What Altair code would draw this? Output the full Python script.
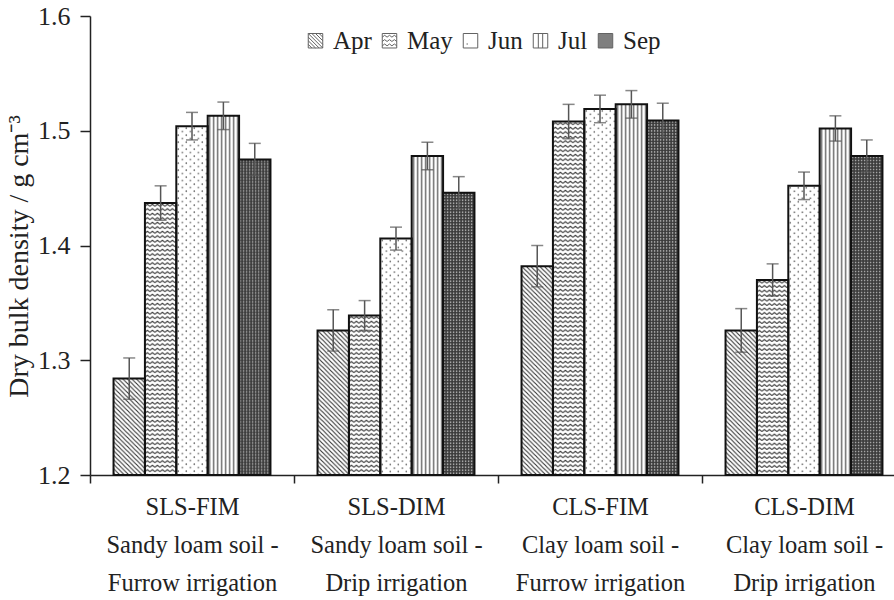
import base64

import altair as alt
import pandas as pd

# ---- data -------------------------------------------------------------
groups = ["SLS-FIM", "SLS-DIM", "CLS-FIM", "CLS-DIM"]
soil_lines = ["Sandy loam soil -", "Sandy loam soil -", "Clay loam soil -", "Clay loam soil -"]
irrigation_lines = ["Furrow irrigation", "Drip irrigation", "Furrow irrigation", "Drip irrigation"]
months = ["Apr", "May", "Jun", "Jul", "Sep"]

# mean dry bulk density (g cm^-3) per month, in group order
apr = [1.284, 1.326, 1.382, 1.326]
may = [1.437, 1.339, 1.508, 1.370]
jun = [1.504, 1.406, 1.519, 1.452]
jul = [1.513, 1.478, 1.523, 1.502]
sep = [1.475, 1.446, 1.509, 1.478]

# error bar half-widths
apr_err = [0.018, 0.018, 0.018, 0.019]
may_err = [0.015, 0.013, 0.015, 0.014]
jun_err = [0.012, 0.010, 0.012, 0.012]
jul_err = [0.012, 0.012, 0.012, 0.011]
sep_err = [0.014, 0.014, 0.015, 0.014]

rows = []
for m, vals, errs in zip(months, [apr, may, jun, jul, sep],
                         [apr_err, may_err, jun_err, jul_err, sep_err]):
    for g, v, e in zip(groups, vals, errs):
        rows.append({"group": g, "month": m, "density": v, "err": e})
df = pd.DataFrame(rows)

# ---- fill patterns (tiled SVG images stretched over each bar) ----------
def pattern_uri(tw, th, body, bg="#ffffff"):
    svg = (
        '<svg xmlns="http://www.w3.org/2000/svg" width="100%" height="100%">'
        f'<defs><pattern id="p" patternUnits="userSpaceOnUse" width="{tw}" height="{th}">'
        f'<rect width="{tw}" height="{th}" fill="{bg}"/>{body}</pattern></defs>'
        '<rect width="100%" height="100%" fill="url(#p)"/></svg>'
    )
    return "data:image/svg+xml;base64," + base64.b64encode(svg.encode()).decode()


patterns = {
    "Apr": pattern_uri(4.5, 4.5, '<path d="M0,0L4.5,4.5M-1,3.5L1,5.5M3.5,-1L5.5,1" '
                                 'stroke="#333" stroke-width="1.1"/>'),
    "May": pattern_uri(5, 4.5, '<path d="M0,3.2L2.5,1.2L5,3.2" fill="none" '
                               'stroke="#333" stroke-width="1"/>'),
    "Jun": pattern_uri(8, 7, '<circle cx="2" cy="2" r="0.8" fill="#666"/>'
                             '<circle cx="6" cy="5.5" r="0.8" fill="#666"/>'),
    "Jul": pattern_uri(4, 2, '<rect x="1.3" y="0" width="1.4" height="2" fill="#666"/>'),
    "Sep": pattern_uri(3, 3, '<circle cx="1.5" cy="1.5" r="0.9" fill="#a8a8a8"/>', bg="#3a3a3a"),
}

# ---- legend swatches: outlined squares with a miniature of each hatch ---
SQUARE = "M-1,-1H1V1H-1Z"


def diag_lines():
    parts = []
    for c in [-1.5, -1.0, -0.5, 0.0, 0.5, 1.0, 1.5]:
        if c >= 0:
            parts.append(f"M-1,{-1 + c}L{1 - c},1")
        else:
            parts.append(f"M{-1 - c},-1L1,{1 + c}")
    return "".join(parts)


def zigzag_rows():
    parts = []
    for yy in [-0.5, 0.1, 0.7]:
        pts = " ".join(f"L{-1 + k / 3:.3f},{yy - 0.25 * (k % 2):.3f}" for k in range(1, 7))
        parts.append(f"M-1,{yy}{pts}")
    return "".join(parts)


legend_shapes = [
    SQUARE + diag_lines(),
    SQUARE + zigzag_rows(),
    SQUARE + "M-0.55,0.45L-0.35,0.45",
    SQUARE + "M-0.3,-1V1M0.3,-1V1",
    SQUARE,
]
legend_fill = ["#ffffff", "#ffffff", "#ffffff", "#ffffff", "#4a4a4a"]

# ---- encodings ----------------------------------------------------------
FONT = "Liberation Serif"
INK = "#222222"


def label_expr():
    expr = "''"
    for g, s, i in reversed(list(zip(groups, soil_lines, irrigation_lines))):
        expr = f"datum.value == '{g}' ? ['{g}', '{s}', '{i}'] : {expr}"
    return expr


x_enc = alt.X(
    "group:N",
    sort=groups,
    scale=alt.Scale(domain=groups, range=[0, 816], paddingInner=0, paddingOuter=0),
    axis=alt.Axis(
        title=None, tickBand="extent", tickSize=8, tickColor=INK, tickWidth=1.5,
        domainColor=INK, domainWidth=1.5, labelAngle=0, labelExpr=label_expr(),
        labelFont=FONT, labelFontSize=24.5, labelLineHeight=38, labelPadding=12,
        labelColor=INK,
    ),
)
xoff = alt.XOffset("month:N", sort=months,
                   scale=alt.Scale(domain=months, paddingInner=0, paddingOuter=0.75))

y_axis = alt.Axis(
    title="Dry bulk density / g cm⁻³", values=[1.2, 1.3, 1.4, 1.5, 1.6], format=".1f",
    tickSize=10, tickColor=INK, tickWidth=1.5, domainColor=INK, domainWidth=1.5,
    labelFont=FONT, labelFontSize=26, labelColor=INK, labelPadding=10,
    titleFont=FONT, titleFontSize=28, titleFontWeight="normal", titleColor=INK,
    titlePadding=4, titleY=240, grid=False,
)
y_scale = alt.Scale(domain=[1.2, 1.6], nice=False, zero=False)


def y_of(field):
    return alt.Y(f"{field}:Q", scale=y_scale, axis=y_axis)


month_legend = alt.Legend(
    title=None, orient="none", legendX=213, legendY=12, direction="horizontal",
    symbolSize=210, symbolStrokeColor=INK, symbolStrokeWidth=1,
    labelFont=FONT, labelFontSize=25, labelColor=INK, labelOffset=5, columnPadding=5,
)
color_enc = alt.Color("month:N", sort=months,
                      scale=alt.Scale(domain=months, range=legend_fill),
                      legend=month_legend)

base = alt.Chart(df).transform_calculate(
    lo="datum.density - datum.err", hi="datum.density + datum.err", foot="1.23"
)

# small keyed points near the foot of each bar (hidden by the bars) that carry the legend shapes
keys = base.mark_point(filled=True, size=20, strokeWidth=1).encode(
    x=x_enc, xOffset=xoff, y=y_of("foot"),
    color=color_enc,
    shape=alt.Shape("month:N", sort=months,
                    scale=alt.Scale(domain=months, range=legend_shapes),
                    legend=month_legend),
)

fills = base.mark_bar(strokeWidth=0, color="white").encode(
    x=x_enc, xOffset=xoff, y=y_of("density"), y2=alt.Y2(datum=1.2),
)

hatches = [
    base.transform_filter(alt.datum.month == m).mark_image(aspect=False).encode(
        x=x_enc, xOffset=xoff, y=y_of("density"), y2=alt.Y2(datum=1.2),
        url=alt.value(patterns[m]),
    )
    for m in months
]

outlines = base.mark_bar(fillOpacity=0, stroke="#111111", strokeWidth=2).encode(
    x=x_enc, xOffset=xoff, y=y_of("density"), y2=alt.Y2(datum=1.2),
)

err_rule = base.mark_rule(color="#555555", strokeWidth=1.5).encode(
    x=x_enc, xOffset=xoff, y=y_of("lo"), y2="hi:Q",
)
cap_hi = base.mark_tick(color="#555555", thickness=1.5, size=12).encode(
    x=x_enc, xOffset=xoff, y=y_of("hi"),
)
cap_lo = base.mark_tick(color="#555555", thickness=1.5, size=12).encode(
    x=x_enc, xOffset=xoff, y=y_of("lo"),
)

chart = alt.layer(keys, fills, *hatches, outlines, err_rule, cap_hi, cap_lo).properties(
    width=804,
    height=459,
    autosize=alt.AutoSizeParams(type="none"),
    padding={"left": 90, "top": 16, "right": 0, "bottom": 125},
    background="white",
).configure_view(stroke=None)

chart.save("out.html", embed_options={"renderer": "svg", "actions": False})
